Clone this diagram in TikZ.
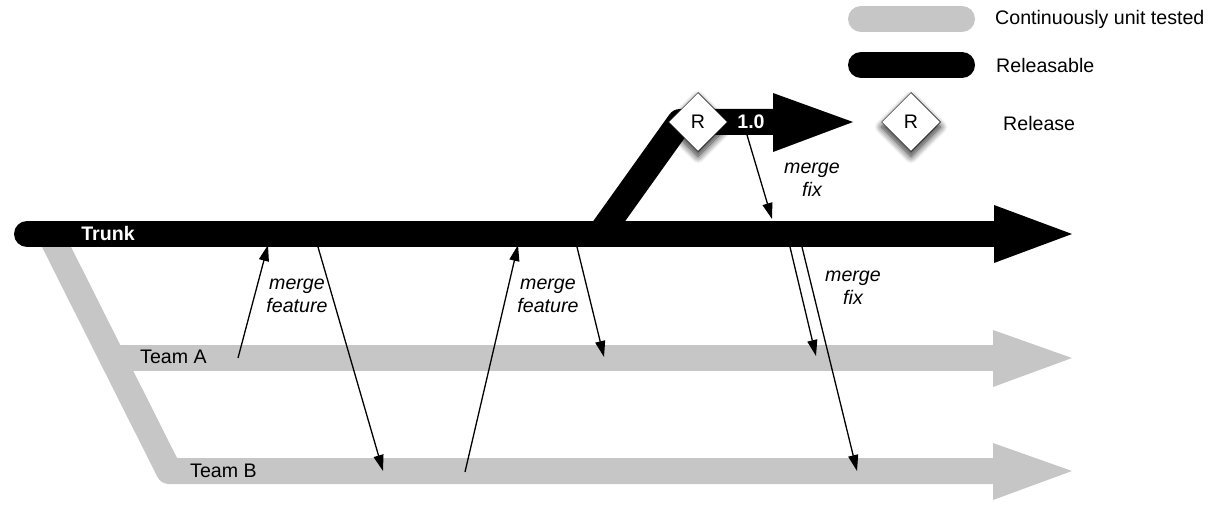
\documentclass[tikz,border=0pt]{standalone}
\usepackage{fontspec}
\setmainfont{Liberation Sans}
\usetikzlibrary{shapes.geometric,arrows.meta,shadows.blur}
\definecolor{ctgray}{RGB}{198,198,198}
\begin{document}
\begin{tikzpicture}[x=1pt,y=-1pt,
  fnt/.style={font=\fontsize{19.6}{23}\selectfont},
  lbl/.style={fnt,align=center,font=\fontsize{19.6}{23}\selectfont\itshape},
  grayline/.style={draw=ctgray,line width=26pt,line join=round},
  blackline/.style={draw=black,line width=26pt,line join=round},
  mergearrow/.style={draw=black,line width=1.3pt,-{Triangle[length=16pt,width=10pt]}},
  relbox/.style={shape=diamond,draw=black,line width=0.5pt,fill=white,aspect=1,
    minimum width=59pt,minimum height=59pt,inner sep=0pt,fnt,
    blur shadow={shadow xshift=0pt,shadow yshift=-5pt,shadow blur steps=10,shadow blur radius=7pt,shadow opacity=85}},
  ]
\useasboundingbox (0,0) rectangle (1226,518);

% legend
\draw[grayline,line cap=round] (861,19) -- (962,19);
\draw[blackline,line cap=round] (861,65) -- (962,65);
\node[fnt,anchor=west,inner sep=0pt] (lgCT) at (995,19) {Continuously unit tested};
\node[fnt,anchor=west,inner sep=0pt] (lgRel) at (996,65) {Releasable};
\node[relbox] (lgR) at (911,122) {R};
\node[fnt,anchor=west,inner sep=0pt] (lgRelease) at (1003,123) {Release};

% gray team branches
\draw[grayline] (48,230) -- (169,471) -- (995,471);
\draw[grayline] (112,358) -- (995,358);
\fill[ctgray] (993,330) -- (1072,358) -- (993,387) -- cycle;
\fill[ctgray] (993,443) -- (1072,471) -- (993,500) -- cycle;

% trunk
\draw[blackline,line cap=round] (27,234) -- (996,234);
\fill[black] (994,205) -- (1072,234) -- (994,263) -- cycle;

% release branch
\draw[blackline] (600,234) -- (680,122) -- (776,122);
\fill[black] (773,93) -- (853,122) -- (773,152) -- cycle;

\node[fnt,font=\fontsize{19.6}{23}\selectfont\bfseries,text=white,inner sep=0pt] (trunk) at (108,233) {Trunk};
\node[fnt,font=\fontsize{19.6}{23}\selectfont\bfseries,text=white,inner sep=0pt] (v10) at (751,122) {1.0};
\node[relbox] (relR) at (698,122) {R};

\node[fnt,anchor=west,inner sep=0pt] (teamA) at (140,357) {Team A};
\node[fnt,anchor=west,inner sep=0pt] (teamB) at (190,471) {Team B};

% merge arrows
\coordinate (a1s) at (238,358); \coordinate (a1e) at (268,245);
\coordinate (a2s) at (318,247); \coordinate (a2e) at (383,471);
\coordinate (a3s) at (465,472); \coordinate (a3e) at (518,245);
\coordinate (a4s) at (577,247); \coordinate (a4e) at (604,357);
\coordinate (a5s) at (747,135); \coordinate (a5e) at (772,219);
\coordinate (a6s) at (790,247); \coordinate (a6e) at (816,356);
\coordinate (a7s) at (802,247); \coordinate (a7e) at (857,471);
\draw[mergearrow] (a1s) -- (a1e);
\draw[mergearrow] (a2s) -- (a2e);
\draw[mergearrow] (a3s) -- (a3e);
\draw[mergearrow] (a4s) -- (a4e);
\draw[mergearrow] (a5s) -- (a5e);
\draw[mergearrow] (a6s) -- (a6e);
\draw[mergearrow] (a7s) -- (a7e);

\node[lbl] (mf1) at (297,296) {merge\\feature};
\node[lbl] (mf2) at (548,296) {merge\\feature};
\node[lbl] (mx1) at (812,180) {merge\\fix};
\node[lbl] (mx2) at (853,288) {merge\\fix};
\end{tikzpicture}
\end{document}
